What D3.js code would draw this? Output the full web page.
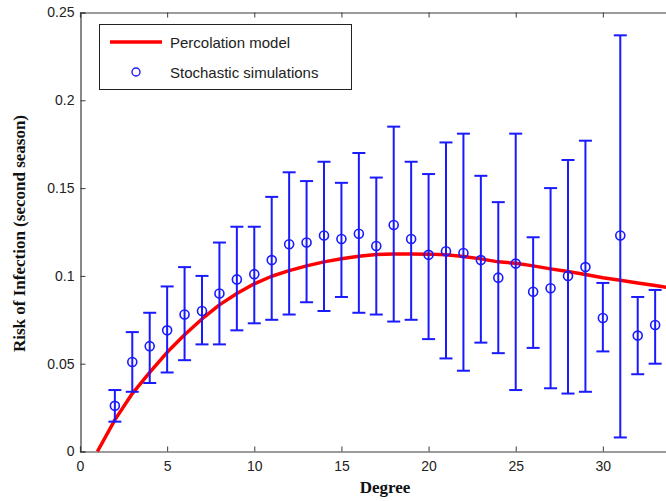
<!DOCTYPE html>
<html>
<head>
<meta charset="utf-8">
<script src="https://cdn.jsdelivr.net/npm/d3@7"></script>
<style>
  body { margin: 0; background: #fff; }
  svg { display: block; }
</style>
</head>
<body>
<script>
// Stochastic simulation results, one entry per degree.
var simDegree = [2, 3, 4, 5, 6, 7, 8, 9, 10, 11, 12, 13, 14, 15, 16, 17, 18,
                 19, 20, 21, 22, 23, 24, 25, 26, 27, 28, 29, 30, 31, 32, 33, 34];
var simMean = [0.026, 0.051, 0.060, 0.069, 0.078, 0.080, 0.090, 0.098, 0.101, 0.109, 0.118,
               0.119, 0.123, 0.121, 0.124, 0.117, 0.129, 0.121, 0.112, 0.114, 0.113, 0.109,
               0.099, 0.107, 0.091, 0.093, 0.100, 0.105, 0.076, 0.123, 0.066, 0.072, 0.065];
var simLow = [0.017, 0.034, 0.039, 0.045, 0.052, 0.061, 0.061, 0.069, 0.073, 0.075, 0.078,
              0.085, 0.080, 0.088, 0.079, 0.078, 0.074, 0.075, 0.064, 0.053, 0.046, 0.062,
              0.056, 0.035, 0.059, 0.036, 0.033, 0.034, 0.057, 0.008, 0.044, 0.050, 0.054];
var simHigh = [0.035, 0.068, 0.079, 0.094, 0.105, 0.100, 0.119, 0.128, 0.128, 0.145, 0.159,
               0.154, 0.165, 0.153, 0.170, 0.156, 0.185, 0.165, 0.158, 0.176, 0.181, 0.157,
               0.142, 0.181, 0.122, 0.150, 0.166, 0.177, 0.096, 0.237, 0.088, 0.092, 0.076];

// Percolation model curve.
var modelDegree = [1, 2, 3, 4, 5, 6, 7, 8, 9, 10, 11, 12, 13, 14, 15, 16, 17, 18,
                   19, 20, 21, 22, 23, 24, 25, 26, 27, 28, 29, 30, 31, 32, 33, 34, 35];
var modelRisk = [0, 0.018, 0.033, 0.045, 0.0565, 0.0665, 0.0755, 0.0835, 0.090, 0.0955, 0.0998,
                 0.103, 0.1057, 0.108, 0.1098, 0.1112, 0.1122, 0.1125, 0.1125, 0.1124, 0.112,
                 0.111, 0.1097, 0.108, 0.1072, 0.1057, 0.104, 0.1025, 0.1008, 0.099, 0.0975,
                 0.096, 0.0945, 0.093, 0.092];

var xTicks = [0, 5, 10, 15, 20, 25, 30];
var yTicks = [0, 0.05, 0.1, 0.15, 0.2, 0.25];

var totalWidth = 666;
var totalHeight = 501;
var margin = { top: 12, left: 80, bottom: 50 };
var plotRight = 690;
var plotBottom = totalHeight - margin.bottom;

var xScale = d3.scaleLinear().domain([0, 35]).range([margin.left, plotRight]);
var yScale = d3.scaleLinear().domain([0, 0.25]).range([plotBottom + 0.5, margin.top + 0.5]);

var svg = d3.select("body").append("svg")
            .attr("width", totalWidth)
            .attr("height", totalHeight);

var tickFont = "'Liberation Sans', Arial, Helvetica, sans-serif";
var labelFont = "'Liberation Serif', 'Times New Roman', serif";
var axisColor = "#3a3a3a";

// Bottom axis, MATLAB style ticks pointing inward.
var xAxis = svg.append("g")
   .attr("transform", "translate(0," + (plotBottom + 0.5) + ")")
   .call(d3.axisBottom(xScale).tickValues(xTicks).tickSize(-5).tickPadding(10).tickFormat(d3.format("d")));
var yAxis = svg.append("g")
   .attr("transform", "translate(" + (margin.left + 0.5) + ",0)")
   .call(d3.axisLeft(yScale).tickValues(yTicks).tickSize(-5).tickPadding(6).tickFormat(function (d) { return d === 0 ? "0" : String(+d.toFixed(2)); }));
var topAxis = svg.append("g")
   .attr("transform", "translate(0," + (margin.top + 0.5) + ")")
   .call(d3.axisTop(xScale).tickValues(xTicks).tickSize(-5).tickFormat(""));

[xAxis, yAxis, topAxis].forEach(function (ax) {
    ax.select(".domain").attr("stroke", axisColor).attr("stroke-width", 1.2);
    ax.selectAll(".tick line").attr("stroke", axisColor);
    ax.selectAll("text")
      .style("font-family", tickFont)
      .style("font-size", "14px")
      .attr("fill", "#222");
});
xAxis.selectAll("text").attr("dy", "0.71em");

// Axis titles.
svg.append("text")
   .attr("x", (margin.left + plotRight) / 2)
   .attr("y", 493)
   .attr("text-anchor", "middle")
   .style("font-family", labelFont)
   .style("font-weight", "bold")
   .style("font-size", "17px")
   .attr("fill", "#111")
   .text("Degree");

svg.append("text")
   .attr("transform", "translate(25," + ((margin.top + plotBottom) / 2 + 2) + ") rotate(-90)")
   .attr("text-anchor", "middle")
   .style("font-family", labelFont)
   .style("font-weight", "bold")
   .style("font-size", "17px")
   .attr("fill", "#111")
   .text("Risk of Infection (second season)");

// Model curve.
var line = d3.line()
             .x(function (d) { return xScale(d[0]); })
             .y(function (d) { return yScale(d[1]); });

svg.append("path")
   .datum(d3.zip(modelDegree, modelRisk))
   .attr("fill", "none")
   .attr("stroke", "#ff0000")
   .attr("stroke-width", 3.5)
   .attr("stroke-linejoin", "round")
   .attr("d", line);

// Error bars and markers.
var blue = "#1a1aff";
var cap = 6.5;
var sims = simDegree.map(function (d, i) {
    return { degree: d, mean: simMean[i], low: simLow[i], high: simHigh[i] };
});

var bars = svg.append("g").attr("class", "errorbars")
              .attr("stroke", blue)
              .attr("stroke-width", 2)
              .attr("fill", "none");

bars.selectAll(".stem").data(sims).enter().append("line")
    .attr("x1", d => xScale(d.degree)).attr("x2", d => xScale(d.degree))
    .attr("y1", d => yScale(d.low)).attr("y2", d => yScale(d.high));
bars.selectAll(".capHigh").data(sims).enter().append("line")
    .attr("x1", d => xScale(d.degree) - cap).attr("x2", d => xScale(d.degree) + cap)
    .attr("y1", d => yScale(d.high)).attr("y2", d => yScale(d.high));
bars.selectAll(".capLow").data(sims).enter().append("line")
    .attr("x1", d => xScale(d.degree) - cap).attr("x2", d => xScale(d.degree) + cap)
    .attr("y1", d => yScale(d.low)).attr("y2", d => yScale(d.low));
bars.selectAll("circle").data(sims).enter().append("circle")
    .attr("cx", d => xScale(d.degree))
    .attr("cy", d => yScale(d.mean))
    .attr("r", 4.5)
    .attr("fill", "none")
    .attr("stroke-width", 1.6);

// Legend.
var legend = svg.append("g").attr("class", "legend");
legend.append("rect")
      .attr("x", 99.5).attr("y", 24.5)
      .attr("width", 252).attr("height", 65)
      .attr("fill", "#fff")
      .attr("stroke", "#222")
      .attr("stroke-width", 1);
legend.append("line")
      .attr("x1", 110).attr("x2", 162)
      .attr("y1", 42).attr("y2", 42)
      .attr("stroke", "#ff0000")
      .attr("stroke-width", 3.5);
legend.append("circle")
      .attr("cx", 136).attr("cy", 72).attr("r", 4)
      .attr("fill", "none")
      .attr("stroke", blue)
      .attr("stroke-width", 1.4);
legend.selectAll("text")
      .data(["Percolation model", "Stochastic simulations"])
      .enter().append("text")
      .attr("x", 170)
      .attr("y", (d, i) => 48 + i * 30)
      .style("font-family", tickFont)
      .style("font-size", "15px")
      .attr("fill", "#222")
      .text(d => d);
</script>
</body>
</html>
